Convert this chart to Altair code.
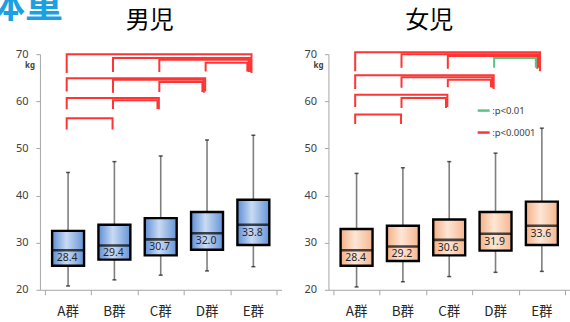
import altair as alt
import pandas as pd

groups = ["A群", "B群", "C群", "D群", "E群"]

# 男児: whisker ends, quartiles and medians (kg)
boys_low = [20.8, 22.1, 23.1, 24.0, 24.9]
boys_q1 = [25.1, 26.4, 27.3, 28.5, 29.5]
boys_median = [28.4, 29.4, 30.7, 32.0, 33.8]
boys_q3 = [32.5, 33.8, 35.2, 36.5, 39.1]
boys_high = [44.9, 47.2, 48.4, 51.8, 52.8]

# 女児
girls_low = [20.6, 21.7, 22.8, 23.7, 23.9]
girls_q1 = [25.1, 26.1, 27.3, 28.3, 29.5]
girls_median = [28.4, 29.2, 30.6, 31.9, 33.6]
girls_q3 = [32.9, 33.6, 34.9, 36.5, 38.7]
girls_high = [44.7, 45.9, 47.2, 49.0, 54.3]

# significance brackets between group pairs
pair_from = [0, 1, 2, 3, 0, 1, 2, 0, 1, 0]
pair_to = [4, 4, 4, 4, 3, 3, 3, 2, 2, 1]
boys_bar_top = [70.0, 69.2, 68.8, 68.2, 64.9, 64.55, 64.1, 60.7, 60.2, 56.4]
boys_leg_end = [66.0, 66.2, 66.2, 66.3, 62.1, 61.8, 61.95, 58.3, 58.35, 54.0]
boys_level = [":p<0.0001"] * 10
girls_bar_top = [70.4, 70.0, 69.6, 69.2, 65.55, 65.1, 64.6, 61.4, 60.7, 57.2]
girls_leg_end = [66.4, 67.1, 66.9, 67.1, 62.6, 62.9, 63.0, 58.8, 58.6, 55.2]
girls_level = [":p<0.0001"] * 3 + [":p<0.01"] + [":p<0.0001"] * 6

levels = [":p<0.01", ":p<0.0001"]
level_colors = ["#5BC386", "#FF3535"]

y_ticks = [20, 30, 40, 50, 60, 70]
x_ticks = [-0.5, 0.5, 1.5, 2.5, 3.5, 4.5]

W, H = 242, 236
CJK = "Noto Sans CJK JP"
LATIN = "Noto Sans"

x_scale = alt.Scale(domain=[-0.5, 4.5], nice=False, zero=False)
y_scale = alt.Scale(domain=[20, 70], nice=False, zero=False)
x_axis = alt.Axis(values=x_ticks, labels=False, grid=False, ticks=True, tickSize=5,
                  domainColor="#A6A6A6", tickColor="#A6A6A6")
y_axis = alt.Axis(values=y_ticks, grid=False, tickSize=4, labelPadding=8,
                  domainColor="#A6A6A6", tickColor="#A6A6A6",
                  labelFont=LATIN, labelFontSize=11, labelColor="#404040")


def X(field):
    return alt.X(field, type="quantitative", scale=x_scale, axis=x_axis, title=None)


def Y(field):
    return alt.Y(field, type="quantitative", scale=y_scale, axis=y_axis, title=None)


def bracket_paths(tops, ends, lv):
    rows = []
    for k, (i, j, top, end, level) in enumerate(zip(pair_from, pair_to, tops, ends, lv)):
        left = i - 0.03
        right = j - 0.04 - 0.03 * i  # inner brackets stop a little short
        for order, (gx, gy) in enumerate([(left, end), (left, top), (right, top), (right, end)]):
            rows.append({"bracket": k, "order": order, "gx": gx, "y": gy, "level": level})
    return pd.DataFrame(rows)


def panel(low, q1, med, q3, high, tops, ends, lv, stops, heading, heading_x, show_legend, extra=None):
    stats = pd.DataFrame({"g": list(range(5)), "label": groups, "low": low, "q1": q1,
                          "median": med, "q3": q3, "high": high})
    base = alt.Chart(stats)

    whisker_lo = base.mark_rule(color="#7F7F7F", strokeWidth=1.6).encode(
        x=X("g"), y=Y("low"), y2="q1")
    whisker_hi = base.mark_rule(color="#7F7F7F", strokeWidth=1.6).encode(
        x=X("g"), y=Y("q3"), y2="high")
    cap_lo = base.mark_tick(orient="horizontal", size=4, thickness=1.5, color="#111111").encode(
        x=X("g"), y=Y("low"))
    cap_hi = base.mark_tick(orient="horizontal", size=4, thickness=1.5, color="#111111").encode(
        x=X("g"), y=Y("high"))
    box = base.mark_bar(
        size=32, stroke="#000000", strokeWidth=2.4,
        fill=alt.Gradient(gradient="linear", x1=0, x2=1, y1=0, y2=0,
                          stops=[alt.GradientStop(offset=o, color=c) for o, c in stops]),
    ).encode(x=X("g"), y=Y("q1"), y2="q3")
    median_line = base.mark_tick(orient="horizontal", size=32, thickness=2.6, color="#000000").encode(
        x=X("g"), y=Y("median"))
    median_text = base.mark_text(font=LATIN, fontSize=10.5, color="#262626", dx=-1, dy=8,
                                 baseline="middle").encode(
        x=X("g"), y=Y("median"), text=alt.Text("median:Q", format=".1f"))
    cat_text = base.mark_text(font=CJK, fontSize=13.5, color="#262626", baseline="middle").encode(
        x=X("g"), y=alt.value(H + 22), text="label:N")

    legend = None
    if show_legend:
        legend = alt.Legend(orient="none", legendX=148, legendY=49, title=None,
                            symbolType="stroke", symbolSize=144, symbolStrokeWidth=2.5,
                            labelFont=LATIN, labelFontSize=9.5, labelColor="#404040",
                            labelOffset=1, rowPadding=9, padding=0)
    brackets = alt.Chart(bracket_paths(tops, ends, lv)).mark_line(
        strokeWidth=2, strokeJoin="miter", strokeCap="butt").encode(
        x=X("gx"), y=Y("y"), detail="bracket:N", order="order:Q",
        color=alt.Color("level:N", scale=alt.Scale(domain=levels, range=level_colors), legend=legend))

    heading_df = pd.DataFrame({"t": [heading]})
    head = alt.Chart(heading_df).mark_text(font=CJK, fontSize=24, color="#000000",
                                           baseline="alphabetic").encode(
        x=alt.value(heading_x), y=alt.value(-26), text="t:N")
    unit = alt.Chart(pd.DataFrame({"t": ["kg"]})).mark_text(
        font=LATIN, fontSize=8, fontWeight="bold", color="#404040", baseline="middle").encode(
        x=alt.value(-10), y=alt.value(12), text="t:N")

    layers = [whisker_lo, whisker_hi, cap_lo, cap_hi, box, median_line, median_text,
              brackets, cat_text, head, unit]
    if extra is not None:
        layers.append(extra)
    return alt.layer(*layers).properties(width=W, height=H)


page_title = alt.Chart(pd.DataFrame({"t": ["体重"]})).mark_text(
    font=CJK, fontSize=38, fontWeight="bold", color="#1BA1E2", align="left", baseline="bottom").encode(
    x=alt.value(-53), y=alt.value(-29), text="t:N")

boys = panel(boys_low, boys_q1, boys_median, boys_q3, boys_high,
             boys_bar_top, boys_leg_end, boys_level,
             [(0, "#5D8ED6"), (0.45, "#C9DBF3"), (1, "#6594D8")],
             "男児", 110, False, extra=page_title)
girls = panel(girls_low, girls_q1, girls_median, girls_q3, girls_high,
              girls_bar_top, girls_leg_end, girls_level,
              [(0, "#F5B085"), (0.45, "#FDE6D6"), (1, "#F6B78F")],
              "女児", 101, True)

chart = (
    alt.hconcat(boys, girls, spacing=22)
    .resolve_scale(color="independent")
    .resolve_legend(color="independent")
    .properties(padding={"left": -13, "top": -13, "right": 0, "bottom": 4}, background="white")
    .configure_view(stroke=None)
)

chart.save("out.html", embed_options={"renderer": "svg", "actions": False})
